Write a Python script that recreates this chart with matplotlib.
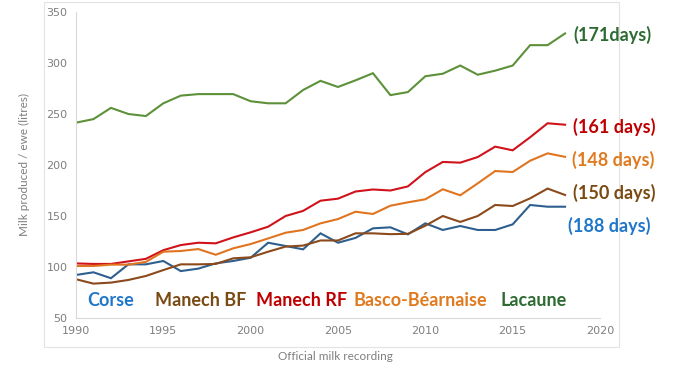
import matplotlib
matplotlib.use("Agg")
import matplotlib.pyplot as plt
from matplotlib.patches import Rectangle

years = list(range(1990, 2019))

lacaune = [241.5, 245, 256, 250, 248, 260.5, 268, 269.5, 269.5, 269.5, 262.5, 260.5, 260.5,
           273.5, 282.5, 276.5, 283, 290, 268.5, 271.5, 287, 289.5, 297.5, 288.5, 292.5,
           297.5, 317.5, 317.5, 329]
manech_rf = [103.5, 103, 103, 105.5, 108, 116.5, 121.5, 123.8, 123.2, 129, 134, 139.5, 150,
             155, 165, 167, 174, 176, 175, 179, 193, 203, 202.3, 207.8, 218, 214.4, 227.2,
             240.9, 239.5]
basco = [101, 101, 102.3, 102.3, 105, 115, 115.7, 117.6, 112, 118.3, 122.5, 128, 133.6,
         136.3, 142.8, 147, 154.2, 152, 160.1, 163.4, 166.4, 176.2, 170.3, 182, 194.1,
         193.1, 204.2, 211.4, 208]
manech_bf = [88, 83.7, 84.7, 87.3, 91.2, 97, 102.6, 102.6, 103, 108.5, 109.5, 115, 120,
             121, 126, 126, 133, 133, 132.2, 132.5, 140.5, 150, 144.2, 150, 160.8, 159.8,
             167.3, 176.9, 170.6]
corse = [92.2, 94.8, 89, 102.6, 102.6, 105.9, 96, 98.4, 103.6, 105.9, 109.1, 123.8, 120.6,
         117.3, 133, 123.8, 128.5, 137.9, 138.9, 132, 142.8, 136.3, 140.2, 136.3, 136.3,
         141.8, 160.8, 159.1, 159.1]

series = [
    ("Corse", corse, "#2E5F8F", "#1F77C9", "(188 days)"),
    ("Manech BF", manech_bf, "#8B4A1C", "#7A4A12", "(150 days)"),
    ("Manech RF", manech_rf, "#D0131B", "#C00000", "(161 days)"),
    ("Basco-Béarnaise", basco, "#E0741F", "#E07A1E", "(148 days)"),
    ("Lacaune", lacaune, "#5C9139", "#2E6B33", "(171days)"),
]

x_ticks = [1990, 1995, 2000, 2005, 2010, 2015, 2020]
y_ticks = [50, 100, 150, 200, 250, 300, 350]

fig = plt.figure(figsize=(7.0, 3.71), dpi=100)
fig.patches.append(Rectangle((44 / 700, 1 - 347 / 371), (619 - 44) / 700, (347 - 2) / 371,
                             transform=fig.transFigure, fill=False,
                             edgecolor="#E3E3E3", linewidth=0.8))
ax = fig.add_axes([76 / 700, 1 - 318 / 371, (600 - 76) / 700, (318 - 12) / 371])

for name, vals, lc, tc, days in series:
    ax.plot(years, vals, color=lc, linewidth=1.5, solid_joinstyle="miter")

ax.set_xlim(1990, 2020)
ax.set_ylim(50, 350)
ax.set_xticks(x_ticks)
ax.set_yticks(y_ticks)
ax.tick_params(length=0, labelsize=8, colors="#7F7F7F", pad=6)
for s in ["top", "right"]:
    ax.spines[s].set_visible(False)
ax.spines["left"].set_color("#D9D9D9")
ax.spines["bottom"].set_color("#D9D9D9")

font = "Lato"
ax.set_ylabel("Milk produced / ewe (litres)", fontsize=8.5, color="#7F7F7F", family=font,
              labelpad=12)
fig.text(335 / 700, 1 - 357 / 371, "Official milk recording", fontsize=8.5, color="#7F7F7F",
         family=font, ha="center", va="center")

# bottom breed labels
label_x = [87, 155, 256, 353, 500]
for (name, vals, lc, tc, days), lx in zip(series, label_x):
    fig.text(lx / 700, 1 - 301 / 371, name, fontsize=13, fontweight="bold", color=tc,
             family=font, ha="left", va="center")

# right-side duration labels
day_pos = {"(188 days)": (568, 226), "(150 days)": (573, 193), "(161 days)": (573, 127),
           "(148 days)": (572, 160), "(171days)": (573, 35)}
for name, vals, lc, tc, days in series:
    px, py = day_pos[days]
    fig.text(px / 700, 1 - py / 371, days, fontsize=13, fontweight="bold", color=tc,
             family=font, ha="left", va="center")

fig.savefig("out.png", dpi=100)
